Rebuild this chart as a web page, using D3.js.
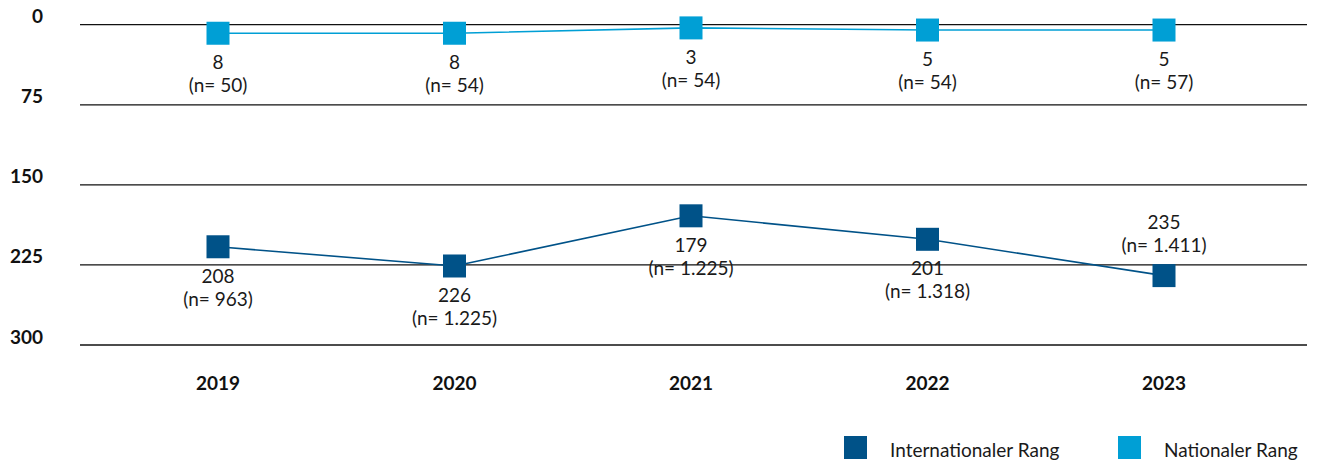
<!DOCTYPE html>
<html><head><meta charset="utf-8">
<script src="https://cdn.jsdelivr.net/npm/d3@7"></script>
<style>body{margin:0;background:#fff}svg{display:block}</style>
</head><body>
<script>
const years = ["2019","2020","2021","2022","2023"];
const intlRank = [208, 226, 179, 201, 235];
const intlN = ["963","1.225","1.225","1.318","1.411"];
const natRank = [8, 8, 3, 5, 5];
const natN = ["50","54","54","54","57"];
const yTicks = [0, 75, 150, 225, 300];
const seriesNames = ["Internationaler Rang", "Nationaler Rang"];
const colors = ["#005288", "#009fd5"];

const W = 1323, H = 466;
const svg = d3.select("body").append("svg").attr("width", W).attr("height", H);
const x = d3.scalePoint().domain(years).range([218, 1164]);
const y = d3.scaleLinear().domain([0, 300]).range([24.7, 345]);
const font = "Lato, 'Noto Sans', sans-serif";
const fs = 19;

// gridlines
svg.append("g").selectAll("line").data(yTicks).join("line")
  .attr("x1", 80).attr("x2", 1307)
  .attr("y1", d => y(d)).attr("y2", d => y(d))
  .attr("stroke", "#111").attr("stroke-width", 1.3);

// y labels
svg.append("g").selectAll("text").data(yTicks).join("text")
  .attr("x", 43).attr("y", d => y(d) - 1.5)
  .attr("text-anchor", "end")
  .attr("font-family", font).attr("font-weight", "bold").attr("font-size", fs)
  .attr("fill", "#111").text(d => d);

// x labels
svg.append("g").selectAll("text").data(years).join("text")
  .attr("x", d => x(d)).attr("y", 390)
  .attr("text-anchor", "middle")
  .attr("font-family", font).attr("font-weight", "bold").attr("font-size", fs)
  .attr("fill", "#111").text(d => d);

const series = [
  {vals: intlRank, ns: intlN, color: colors[0], above: [false,false,false,false,true]},
  {vals: natRank, ns: natN, color: colors[1], above: [false,false,false,false,false]}
];
const line = d3.line().x(d => x(d.year)).y(d => y(d.v));
const sz = 23;
series.forEach(s => {
  const pts = years.map((yr, i) => ({year: yr, v: s.vals[i], n: s.ns[i], above: s.above[i]}));
  svg.append("path").datum(pts).attr("d", line)
    .attr("fill", "none").attr("stroke", s.color).attr("stroke-width", 1.6);
  svg.append("g").selectAll("rect").data(pts).join("rect")
    .attr("x", d => x(d.year) - sz/2).attr("y", d => y(d.v) - sz/2)
    .attr("width", sz).attr("height", sz).attr("fill", s.color);
  const g = svg.append("g").attr("font-family", font).attr("font-size", fs)
    .attr("fill", "#1a1a1a").attr("text-anchor", "middle");
  g.selectAll("text.v").data(pts).join("text").attr("class", "v")
    .attr("x", d => x(d.year))
    .attr("y", d => y(d.v) + (d.above ? -47 : 36)).text(d => d.v);
  g.selectAll("text.n").data(pts).join("text").attr("class", "n")
    .attr("x", d => x(d.year))
    .attr("y", d => y(d.v) + (d.above ? -24 : 59)).text(d => "(n= " + d.n + ")");
});

// legend
const legX = [844, 1118];
const lg = svg.append("g").selectAll("g").data(seriesNames).join("g")
  .attr("transform", (d, i) => `translate(${legX[i]},436)`);
lg.append("rect").attr("width", 23).attr("height", 23).attr("fill", (d, i) => colors[i]);
lg.append("text").attr("x", 46).attr("y", 21)
  .attr("font-family", font).attr("font-size", fs).attr("fill", "#1a1a1a").text(d => d);
</script>
</body></html>
